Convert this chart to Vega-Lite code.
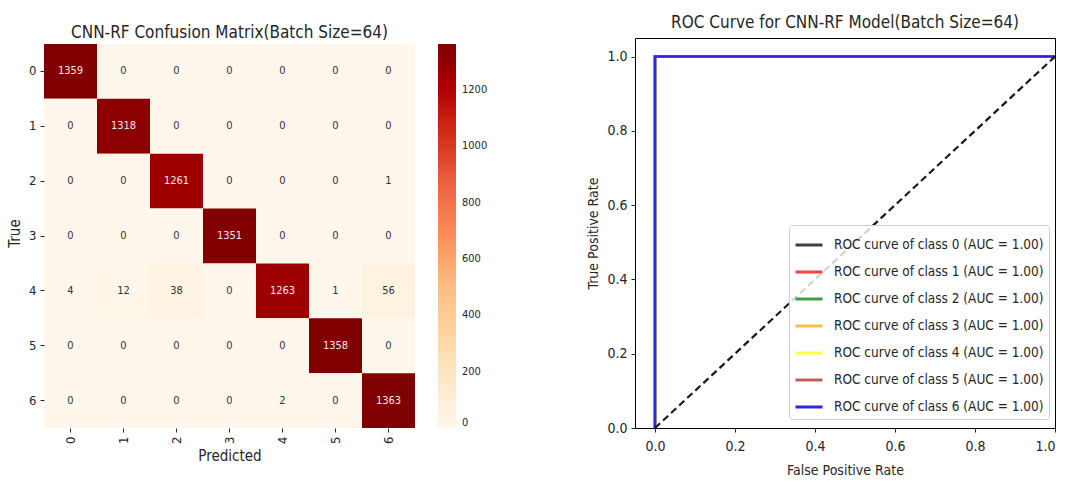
{
  "$schema": "https://vega.github.io/schema/vega-lite/v6.json",
  "autosize": {"type": "pad"},
  "padding": {"left": 7, "top": 13, "right": 0, "bottom": 0},
  "background": "white",
  "datasets": {
    "cm": [
      {"t": 0, "p": 0, "count": 1359}, {"t": 0, "p": 1, "count": 0}, {"t": 0, "p": 2, "count": 0}, {"t": 0, "p": 3, "count": 0}, {"t": 0, "p": 4, "count": 0}, {"t": 0, "p": 5, "count": 0}, {"t": 0, "p": 6, "count": 0},
      {"t": 1, "p": 0, "count": 0}, {"t": 1, "p": 1, "count": 1318}, {"t": 1, "p": 2, "count": 0}, {"t": 1, "p": 3, "count": 0}, {"t": 1, "p": 4, "count": 0}, {"t": 1, "p": 5, "count": 0}, {"t": 1, "p": 6, "count": 0},
      {"t": 2, "p": 0, "count": 0}, {"t": 2, "p": 1, "count": 0}, {"t": 2, "p": 2, "count": 1261}, {"t": 2, "p": 3, "count": 0}, {"t": 2, "p": 4, "count": 0}, {"t": 2, "p": 5, "count": 0}, {"t": 2, "p": 6, "count": 1},
      {"t": 3, "p": 0, "count": 0}, {"t": 3, "p": 1, "count": 0}, {"t": 3, "p": 2, "count": 0}, {"t": 3, "p": 3, "count": 1351}, {"t": 3, "p": 4, "count": 0}, {"t": 3, "p": 5, "count": 0}, {"t": 3, "p": 6, "count": 0},
      {"t": 4, "p": 0, "count": 4}, {"t": 4, "p": 1, "count": 12}, {"t": 4, "p": 2, "count": 38}, {"t": 4, "p": 3, "count": 0}, {"t": 4, "p": 4, "count": 1263}, {"t": 4, "p": 5, "count": 1}, {"t": 4, "p": 6, "count": 56},
      {"t": 5, "p": 0, "count": 0}, {"t": 5, "p": 1, "count": 0}, {"t": 5, "p": 2, "count": 0}, {"t": 5, "p": 3, "count": 0}, {"t": 5, "p": 4, "count": 0}, {"t": 5, "p": 5, "count": 1358}, {"t": 5, "p": 6, "count": 0},
      {"t": 6, "p": 0, "count": 0}, {"t": 6, "p": 1, "count": 0}, {"t": 6, "p": 2, "count": 0}, {"t": 6, "p": 3, "count": 0}, {"t": 6, "p": 4, "count": 2}, {"t": 6, "p": 5, "count": 0}, {"t": 6, "p": 6, "count": 1363}
    ],
    "roc": [
      {"label": "ROC curve of class 0 (AUC = 1.00)", "o": 0, "fpr": 0, "tpr": 0},
      {"label": "ROC curve of class 0 (AUC = 1.00)", "o": 1, "fpr": 0, "tpr": 1},
      {"label": "ROC curve of class 0 (AUC = 1.00)", "o": 2, "fpr": 1, "tpr": 1},
      {"label": "ROC curve of class 1 (AUC = 1.00)", "o": 0, "fpr": 0, "tpr": 0},
      {"label": "ROC curve of class 1 (AUC = 1.00)", "o": 1, "fpr": 0, "tpr": 1},
      {"label": "ROC curve of class 1 (AUC = 1.00)", "o": 2, "fpr": 1, "tpr": 1},
      {"label": "ROC curve of class 2 (AUC = 1.00)", "o": 0, "fpr": 0, "tpr": 0},
      {"label": "ROC curve of class 2 (AUC = 1.00)", "o": 1, "fpr": 0, "tpr": 1},
      {"label": "ROC curve of class 2 (AUC = 1.00)", "o": 2, "fpr": 1, "tpr": 1},
      {"label": "ROC curve of class 3 (AUC = 1.00)", "o": 0, "fpr": 0, "tpr": 0},
      {"label": "ROC curve of class 3 (AUC = 1.00)", "o": 1, "fpr": 0, "tpr": 1},
      {"label": "ROC curve of class 3 (AUC = 1.00)", "o": 2, "fpr": 1, "tpr": 1},
      {"label": "ROC curve of class 4 (AUC = 1.00)", "o": 0, "fpr": 0, "tpr": 0},
      {"label": "ROC curve of class 4 (AUC = 1.00)", "o": 1, "fpr": 0, "tpr": 1},
      {"label": "ROC curve of class 4 (AUC = 1.00)", "o": 2, "fpr": 1, "tpr": 1},
      {"label": "ROC curve of class 5 (AUC = 1.00)", "o": 0, "fpr": 0, "tpr": 0},
      {"label": "ROC curve of class 5 (AUC = 1.00)", "o": 1, "fpr": 0, "tpr": 1},
      {"label": "ROC curve of class 5 (AUC = 1.00)", "o": 2, "fpr": 1, "tpr": 1},
      {"label": "ROC curve of class 6 (AUC = 1.00)", "o": 0, "fpr": 0, "tpr": 0},
      {"label": "ROC curve of class 6 (AUC = 1.00)", "o": 1, "fpr": 0, "tpr": 1},
      {"label": "ROC curve of class 6 (AUC = 1.00)", "o": 2, "fpr": 1, "tpr": 1}
    ],
    "diag": [
      {"fpr": 0, "tpr": 0},
      {"fpr": 1, "tpr": 1}
    ]
  },
  "hconcat": [
    {
      "width": 371,
      "height": 390,
      "title": {"text": "CNN-RF Confusion Matrix(Batch Size=64)", "fontSize": 17, "offset": -4, "frame": "group"},
      "data": {"name": "cm"},
      "encoding": {
        "x": {"field": "p", "type": "ordinal", "title": "Predicted",
              "scale": {"paddingInner": 0, "paddingOuter": 0},
              "axis": {"labelAngle": 270, "tickSize": 4, "labelPadding": 4, "titlePadding": 5, "labelFontSize": 13, "titleFontSize": 15}},
        "y": {"field": "t", "type": "ordinal", "title": "True",
              "scale": {"paddingInner": 0, "paddingOuter": 0.0547, "align": 1},
              "axis": {"labelAngle": 0, "tickSize": 4, "labelPadding": 4, "titlePadding": 6, "labelFontSize": 13, "titleFontSize": 15}}
      },
      "layer": [
        {
          "mark": {"type": "rect"},
          "encoding": {
            "color": {"field": "count", "type": "quantitative",
                      "scale": {"domain": [0, 170.375, 340.75, 511.125, 681.5, 851.875, 1022.25, 1192.625, 1363],
                                "range": ["#fff7ec", "#fee8c8", "#fdd49e", "#fdbb84", "#fc8d59", "#ef6548", "#d7301f", "#b30000", "#7f0000"]},
                      "legend": {"orient": "none", "legendX": 394, "legendY": 6, "direction": "vertical", "title": null,
                                 "gradientLength": 384, "gradientThickness": 18, "gradientStrokeWidth": 0, "format": "d",
                                 "values": [0, 200, 400, 600, 800, 1000, 1200], "labelFontSize": 11, "labelOffset": 6}}
          }
        },
        {
          "mark": {"type": "text", "fontSize": 11},
          "encoding": {
            "text": {"field": "count", "type": "quantitative", "format": "d"},
            "color": {"condition": {"test": "datum.count > 700", "value": "#f6e4e4"}, "value": "#333333"}
          }
        }
      ]
    },
    {
      "width": 420,
      "height": 390,
      "view": {"stroke": "#000000", "strokeWidth": 1},
      "title": {"text": "ROC Curve for CNN-RF Model(Batch Size=64)", "fontSize": 17, "offset": 6, "frame": "group"},
      "layer": [
        {
          "data": {"name": "roc"},
          "mark": {"type": "line", "strokeWidth": 2.5},
          "encoding": {
            "x": {"field": "fpr", "type": "quantitative", "title": "False Positive Rate",
                  "scale": {"domain": [-0.05, 1.0], "nice": false, "zero": false},
                  "axis": {"values": [0, 0.2, 0.4, 0.6, 0.8, 1.0], "format": ".1f", "tickSize": 4, "labelPadding": 7, "titlePadding": 10, "labelFontSize": 14, "titleFontSize": 14}},
            "y": {"field": "tpr", "type": "quantitative", "title": "True Positive Rate",
                  "scale": {"domain": [0, 1.05], "nice": false, "zero": false},
                  "axis": {"values": [0, 0.2, 0.4, 0.6, 0.8, 1.0], "format": ".1f", "tickSize": 4, "labelPadding": 4, "titlePadding": 6, "labelFontSize": 14, "titleFontSize": 14}},
            "color": {"field": "label", "type": "nominal",
                      "scale": {"domain": ["ROC curve of class 0 (AUC = 1.00)", "ROC curve of class 1 (AUC = 1.00)", "ROC curve of class 2 (AUC = 1.00)", "ROC curve of class 3 (AUC = 1.00)", "ROC curve of class 4 (AUC = 1.00)", "ROC curve of class 5 (AUC = 1.00)", "ROC curve of class 6 (AUC = 1.00)"],
                                "range": ["#404040", "#ff4040", "#40a040", "#ffbc40", "#ffff40", "#bc5f5f", "#2e24e6"]},
                      "legend": {"orient": "none", "legendX": 154, "legendY": 187, "title": null, "symbolType": "stroke", "symbolSize": 729, "symbolStrokeWidth": 3,
                                 "labelFontSize": 13.5, "labelLimit": 400, "labelOffset": 10, "rowPadding": 5, "padding": 5,
                                 "fillColor": "rgba(255,255,255,0.8)", "strokeColor": "#cccccc", "cornerRadius": 3}},
            "order": {"field": "o", "type": "quantitative"}
          }
        },
        {
          "data": {"name": "diag"},
          "mark": {"type": "line", "strokeDash": [7, 4], "strokeWidth": 2.2, "color": "#1a1a1a"},
          "encoding": {
            "x": {"field": "fpr", "type": "quantitative"},
            "y": {"field": "tpr", "type": "quantitative"}
          }
        }
      ]
    }
  ],
  "spacing": 220,
  "bounds": "flush",
  "config": {
    "font": "DejaVu Sans Condensed",
    "view": {"stroke": null},
    "axis": {"labelFont": "DejaVu Sans Condensed", "titleFont": "DejaVu Sans Condensed", "labelColor": "#262626", "titleColor": "#262626", "titleFontWeight": "normal", "tickColor": "#262626", "grid": false, "domain": false},
    "legend": {"labelFont": "DejaVu Sans Condensed", "labelColor": "#262626"},
    "title": {"font": "DejaVu Sans Condensed", "fontWeight": "normal", "color": "#262626"},
    "text": {"font": "DejaVu Sans Condensed"}
  }
}
